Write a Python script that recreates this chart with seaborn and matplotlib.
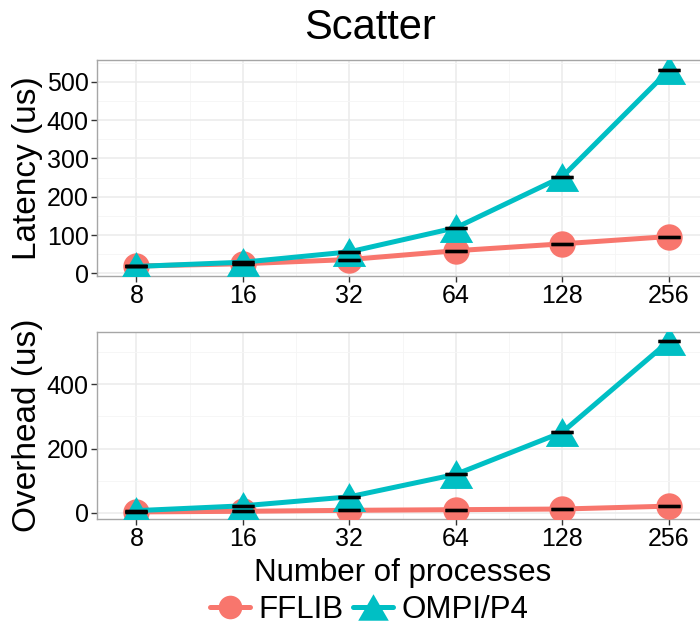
import matplotlib
matplotlib.use('Agg')
import matplotlib.pyplot as plt
from matplotlib.path import Path
from matplotlib.ticker import MultipleLocator
import pandas as pd
import seaborn as sns

procs = ['8', '16', '32', '64', '128', '256']
libs = ['FFLIB', 'OMPI/P4']
latency_fflib = [19, 25, 36, 59, 77, 96]
latency_ompi = [18, 29, 56, 119, 252, 530]
overhead_fflib = [3, 5, 8, 10, 12, 21]
overhead_ompi = [7, 22, 50, 120, 251, 534]

colors = {'FFLIB': '#F8766D', 'OMPI/P4': '#00BFC4'}
# equilateral triangle like ggplot's shape 17
tri = Path([(0, 0.433), (-0.5, -0.433), (0.5, -0.433), (0, 0.433)],
           [Path.MOVETO, Path.LINETO, Path.LINETO, Path.CLOSEPOLY])
markers = {'FFLIB': 'o', 'OMPI/P4': tri}


def make_frame(fflib, ompi):
    rows = []
    for i, p in enumerate(procs):
        rows.append({'idx': i, 'procs': p, 'lib': 'FFLIB', 'value': fflib[i]})
    for i, p in enumerate(procs):
        rows.append({'idx': i, 'procs': p, 'lib': 'OMPI/P4', 'value': ompi[i]})
    return pd.DataFrame(rows)


sns.set_theme(style='white')
plt.rcParams['font.family'] = ['Liberation Sans', 'DejaVu Sans']
plt.rcParams['text.color'] = 'black'
plt.rcParams['axes.labelcolor'] = 'black'

fig = plt.figure(figsize=(7, 6.31), dpi=100)
ax1 = fig.add_axes([0.1386, 0.5626, 0.873, 0.3423])
ax2 = fig.add_axes([0.1386, 0.1775, 0.873, 0.2964])


def draw_panel(ax, df, ylabel, ylim, major, minor):
    ax.set_facecolor('white')
    sns.lineplot(data=df, x='idx', y='value', hue='lib', style='lib',
                 palette=colors, markers=markers, dashes=False,
                 markersize=19, linewidth=3.6, markeredgewidth=0,
                 legend=False, ax=ax, zorder=3)
    for line in ax.get_lines():
        if not isinstance(line.get_marker(), str):
            line.set_markersize(24)
    for lib in libs:
        sub = df[df['lib'] == lib]
        ax.errorbar(sub['idx'], sub['value'], yerr=0, fmt='none', ecolor='black',
                    capsize=8, capthick=2.4, elinewidth=0, zorder=5)
    ax.set_xlim(-0.37, 5.37)
    ax.set_ylim(*ylim)
    ax.set_xticks(range(len(procs)))
    ax.set_xticklabels(procs)
    ax.xaxis.set_minor_locator(MultipleLocator(0.5))
    ax.yaxis.set_major_locator(MultipleLocator(major))
    ax.yaxis.set_minor_locator(MultipleLocator(minor))
    ax.grid(which='major', color='#EBEBEB', linewidth=1.1, zorder=0)
    ax.grid(which='minor', color='#F5F5F5', linewidth=0.6, zorder=0)
    ax.set_axisbelow(True)
    for s in ax.spines.values():
        s.set_color('#A6A6A6')
        s.set_linewidth(1.0)
    ax.tick_params(axis='both', which='major', labelsize=18, length=4,
                   width=1, color='#333333', labelcolor='black', pad=2,
                   bottom=True, left=True)
    ax.tick_params(which='minor', length=0)
    ax.set_xlabel('')
    ax.set_ylabel(ylabel, fontsize=24, labelpad=3)


draw_panel(ax1, make_frame(latency_fflib, latency_ompi), 'Latency (us)',
           (-7, 557), 100, 50)
draw_panel(ax2, make_frame(overhead_fflib, overhead_ompi), 'Overhead (us)',
           (-19, 563), 200, 100)

fig.text(0.529, 1 - 28 / 631, 'Scatter', ha='center', va='center', fontsize=30)
fig.text(0.575, 1 - 573 / 631, 'Number of processes', ha='center', va='center',
         fontsize=22.5)

handles = [
    plt.Line2D([], [], color=colors['FFLIB'], marker='o', markersize=17,
               linewidth=3.6, markeredgewidth=0),
    plt.Line2D([], [], color=colors['OMPI/P4'], marker=tri, markersize=22,
               linewidth=3.6, markeredgewidth=0),
]
fig.legend(handles, libs, loc='center', bbox_to_anchor=(0.527, 1 - 610 / 631),
           ncol=2, frameon=False, fontsize=22.5, handlelength=1.3,
           handletextpad=0.25, columnspacing=0.3)

fig.savefig('out.png', dpi=100)
